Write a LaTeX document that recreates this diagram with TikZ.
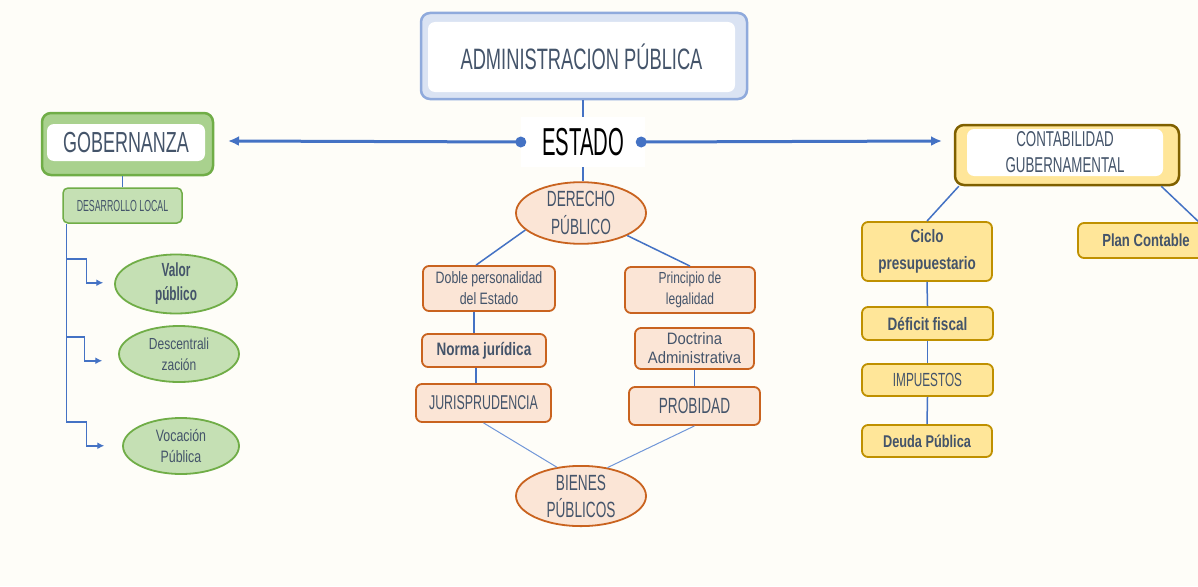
\documentclass[tikz,border=0pt]{standalone}
\usepackage{fontspec}
\setmainfont{Liberation Sans}[FakeStretch=0.62]
\newfontfamily\estfont{Liberation Sans}[FakeStretch=0.52]
\newfontfamily\lowfont{Liberation Sans}[FakeStretch=0.75]
\newfontfamily\widefont{Liberation Sans}[FakeStretch=0.9]
\usetikzlibrary{shapes.geometric,arrows.meta,calc}
\definecolor{bg}{HTML}{FEFDF8}
\definecolor{lblue}{HTML}{4472C4}
\definecolor{thinblue}{HTML}{7096D8}
\definecolor{txt}{HTML}{44546A}
\definecolor{adminfill}{HTML}{DAE3F3}
\definecolor{admindraw}{HTML}{8FAADC}
\definecolor{gfill}{HTML}{A9D18E}
\definecolor{gdraw}{HTML}{70AD47}
\definecolor{glight}{HTML}{C5E0B4}
\definecolor{ofill}{HTML}{FBE5D6}
\definecolor{odraw}{HTML}{C9631F}
\definecolor{yfill}{HTML}{FFE699}
\definecolor{ydraw}{HTML}{BF9000}
\definecolor{ydark}{HTML}{7F6000}
\newcommand{\fz}[2]{\fontsize{#1pt}{#2pt}\selectfont}
\tikzset{
  conn/.style={draw=lblue, line width=1.5pt},
  thinconn/.style={draw=thinblue, line width=1pt},
  mainarrow/.style={draw=lblue, line width=3pt, -{Latex[length=11pt,width=10pt]}},
  base/.style={inner sep=0pt, align=center, text=txt},
  outbox/.style={base, rounded corners=9pt, line width=2.5pt},
  inwhite/.style={base, fill=white, rounded corners=7pt},
  greenbox/.style={base, rounded corners=5pt, fill=glight, draw=gdraw, line width=1.5pt},
  greenell/.style={base, ellipse, fill=glight, draw=gdraw, line width=1.8pt},
  obox/.style={base, rounded corners=6pt, fill=ofill, draw=odraw, line width=1.8pt},
  oell/.style={base, ellipse, fill=ofill, draw=odraw, line width=1.8pt},
  ybox/.style={base, rounded corners=6pt, fill=yfill, draw=ydraw, line width=1.8pt},
}
\begin{document}
\begin{tikzpicture}[x=1pt,y=-1pt]
\fill[bg] (0,0) rectangle (1198,586);
\useasboundingbox (0,0) rectangle (1198,586);
\clip (0,0) rectangle (1198,586);

% ADMINISTRACION
\node[outbox, fill=adminfill, draw=admindraw, minimum width=326pt, minimum height=86pt] (adminout) at (584,56) {};
\node[inwhite, minimum width=307pt, minimum height=70pt, font=\fz{29.5}{32}] (admin) at (581.5,57) {ADMINISTRACION PÚBLICA};

% ESTADO
\node[inner sep=0pt, fill=white, minimum width=124pt, minimum height=50pt, text=black, font=\estfont\fz{39}{40}] (estado) at (583,142) {ESTADO};

% GOBERNANZA
\node[outbox, fill=gfill, draw=gdraw, minimum width=171pt, minimum height=62pt] (gobout) at (127.5,144) {};
\node[inwhite, minimum width=158pt, minimum height=37pt, font=\fz{29}{30}] (gob) at (126,142.5) {GOBERNANZA};
\node[greenbox, minimum width=119pt, minimum height=35pt, font=\fz{16}{16}] (desarrollo) at (122.5,205.5) {\addfontfeature{FakeStretch=0.55}DESARROLLO LOCAL};
\node[greenell, minimum width=122pt, minimum height=50pt, font=\bfseries\fz{19}{24}] (valor) at (176,284) {Valor\\público};
\node[greenell, minimum width=120pt, minimum height=56pt, font=\lowfont\fz{16}{21}] (descen) at (179,354) {Descentrali\\zación};
\node[greenell, minimum width=116pt, minimum height=56pt, font=\lowfont\fz{16.5}{21}] (vocacion) at (181,446) {Vocación\\Pública};

% CONTABILIDAD
\node[outbox, fill=yfill, draw=ydark, minimum width=224pt, minimum height=60pt] (contabout) at (1067,155) {};
\node[inwhite, minimum width=196pt, minimum height=47pt, font=\fz{21.5}{26}] (contab) at (1065,152.5) {CONTABILIDAD\\GUBERNAMENTAL};
\node[ybox, minimum width=130pt, minimum height=59pt, font=\lowfont\bfseries\fz{18}{27}] (ciclo) at (927,251.5) {Ciclo\\presupuestario};
\node[ybox, minimum width=136pt, minimum height=35pt, font=\lowfont\bfseries\fz{17.5}{20}] (plan) at (1146,240.5) {Plan Contable};
\node[ybox, minimum width=131pt, minimum height=33pt, font=\lowfont\bfseries\fz{18}{20}] (deficit) at (927.5,323.5) {Déficit fiscal};
\node[ybox, minimum width=131pt, minimum height=32pt, font=\fz{19}{20}] (impuestos) at (927.5,380) {IMPUESTOS};
\node[ybox, minimum width=130pt, minimum height=32pt, font=\lowfont\bfseries\fz{17}{20}] (deuda) at (927,441) {Deuda Pública};

% DERECHO
\node[oell, minimum width=130pt, minimum height=56pt, font=\fz{22}{28}] (derecho) at (581,213) {DERECHO\\PÚBLICO};
\node[obox, minimum width=132pt, minimum height=45pt, font=\lowfont\fz{16.5}{21}] (doble) at (489,288.5) {Doble personalidad\\del Estado};
\node[obox, minimum width=124pt, minimum height=33pt, font=\lowfont\bfseries\fz{18}{20}] (norma) at (484,350.5) {Norma jurídica};
\node[obox, minimum width=135pt, minimum height=38pt, font=\fz{20}{20}] (juris) at (483.5,403) {JURISPRUDENCIA};
\node[obox, minimum width=130pt, minimum height=46pt, font=\lowfont\fz{16}{21}] (principio) at (690,290) {Principio de\\legalidad};
\node[obox, minimum width=119pt, minimum height=41pt, font=\widefont\fz{16.5}{19}] (doctrina) at (694.5,348.5) {Doctrina\\Administrativa};
\node[obox, minimum width=131pt, minimum height=38pt, font=\fz{22}{24}] (probidad) at (694.5,406) {PROBIDAD};
\node[oell, minimum width=130pt, minimum height=58pt, font=\fz{22}{27}] (bienes) at (581,496) {BIENES\\PÚBLICOS};

% connectors
\draw[conn] (adminout.south -| estado.north) -- (estado.north);
\draw[conn] (estado.south) -- (estado.south |- derecho.north);
\coordinate (lt) at (228,141);
\coordinate (rt) at (942,141);
\draw[mainarrow] (estado.west) -- (lt);
\draw[mainarrow] ([xshift=-4pt]estado.east) -- (rt);
\fill[lblue] (estado.west) circle (5.5pt);
\fill[lblue] ([xshift=-4pt]estado.east) circle (5.5pt);

\draw[conn] (desarrollo.north |- gobout.south) -- (desarrollo.north);
\coordinate (trunk) at ([xshift=4pt]desarrollo.south west);
\draw[conn] (trunk) -- ++(0,198);
\draw[conn, -{Latex[length=7pt,width=7pt]}] ($(trunk)+(0,35)$) -- ++(20,0) -- ++(0,24) -- ++(17,0);
\draw[conn, -{Latex[length=7pt,width=7pt]}] ($(trunk)+(0,113)$) -- ++(18,0) -- ++(0,24) -- ++(18,0);
\draw[conn, -{Latex[length=7pt,width=7pt]}] ($(trunk)+(0,198)$) -- ++(20,0) -- ++(0,24) -- ++(18,0);

\draw[conn] (derecho.197) -- ([xshift=-13pt]doble.north);
\draw[conn] (derecho.-26) -- (principio.north);
\draw[conn] ([xshift=-15pt]doble.south) -- ([xshift=-10pt]norma.north);
\draw[conn] ([xshift=-8pt]norma.south) -- ([xshift=-7.5pt]juris.north);
\draw[conn] (doctrina.south) -- (probidad.north);
\draw[thinconn] (juris.south) -- (bienes.130);
\draw[thinconn] (probidad.south) -- (bienes.47);

\draw[conn] ([xshift=5pt]contabout.south west) -- (ciclo.north);
\draw[conn] ([xshift=-19pt]contabout.south east) -- ([xshift=53pt]plan.north);
\draw[conn] (ciclo.south) -- (deficit.north);
\draw[conn] (deficit.south) -- (impuestos.north);
\draw[conn] (impuestos.south) -- (deuda.north);
\end{tikzpicture}
\end{document}
